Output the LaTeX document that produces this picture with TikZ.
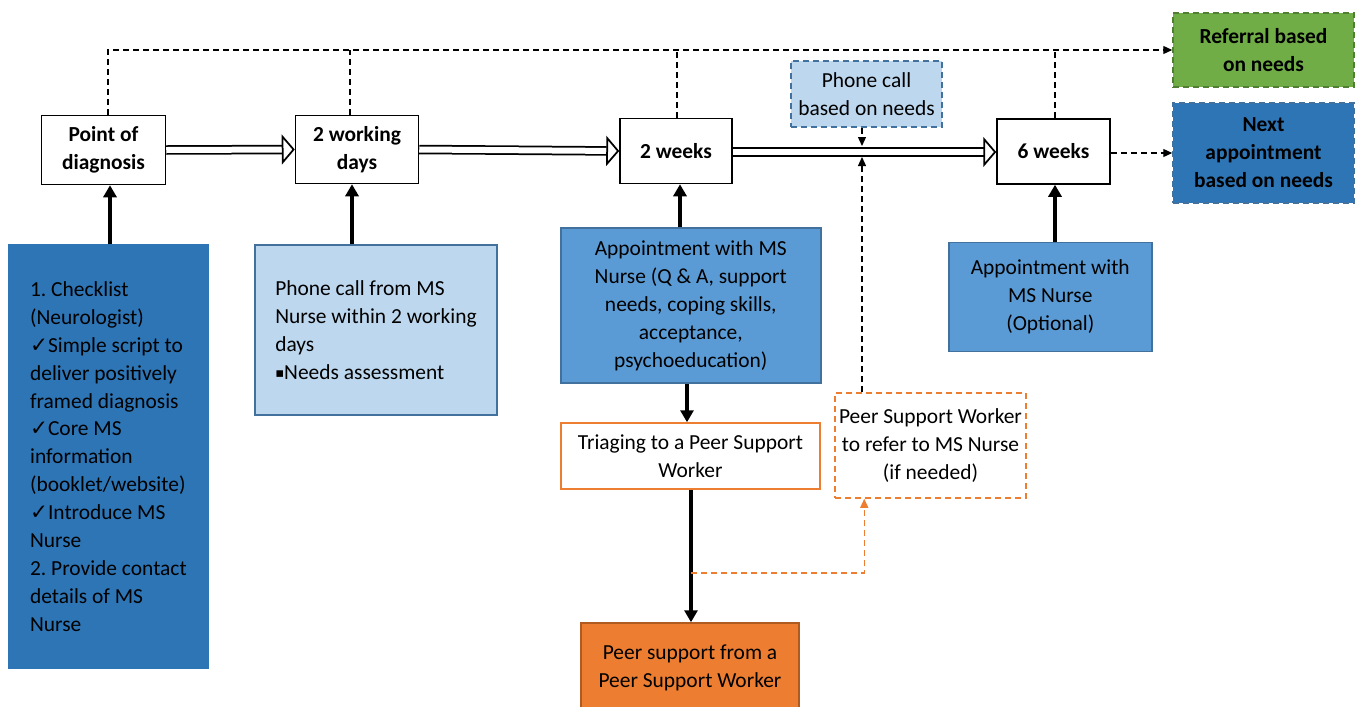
\documentclass[tikz,border=0pt]{standalone}
\usepackage{fontspec}
\setmainfont{Carlito}
\newfontfamily\symfont{DejaVu Sans}
\usetikzlibrary{arrows.meta,calc}
\frenchspacing

\definecolor{deepblue}{HTML}{2E75B6}
\definecolor{midblue}{HTML}{5B9BD5}
\definecolor{paleblue}{HTML}{BDD7EE}
\definecolor{blueline}{HTML}{41719C}
\definecolor{leafgreen}{HTML}{70AD47}
\definecolor{greenline}{HTML}{507E32}
\definecolor{peach}{HTML}{ED7D31}
\definecolor{peachline}{HTML}{AE5A21}

\tikzset{
  boxsize/.style 2 args={minimum width=#1*0.02cm, minimum height=#2*0.02cm},
  stage/.style={draw, line width=0.03cm, fill=white, align=center, font=\fontsize{12.2}{15.9}\selectfont\bfseries, inner sep=0pt},
  care/.style={draw=blueline, line width=0.03cm, align=center, inner sep=0pt},
  dashbox/.style={dash pattern=on 0.12cm off 0.08cm, line width=0.03cm},
  push/.style={line width=0.08cm, -{Triangle[length=0.24cm, width=0.26cm]}},
  flow/.style={double, line width=0.035cm, double distance=0.12cm, -{Triangle[fill=white, length=0.26cm, width=0.6cm, line width=0.035cm]}},
  link/.style={dash pattern=on 0.12cm off 0.08cm, line width=0.025cm, -{Triangle[length=0.18cm, width=0.16cm]}}
}
\newcommand{\tickmark}{{\symfont\char"2713}}
\newcommand{\sqbullet}{\raisebox{1pt}{\symfont\fontsize{7.5}{8}\selectfont\char"25AA}}

\begin{document}
\begin{tikzpicture}[x=0.02cm, y=-0.02cm, font=\fontsize{12.2}{15.9}\selectfont]
  \useasboundingbox (0,0) rectangle (1357,707);

  % time points along the pathway
  \node[stage, boxsize={124}{69}] (pod) at (103.5,150) {Point of\\diagnosis};
  \node[stage, boxsize={123}{68}] (twd) at (357,149.5) {2 working\\days};
  \node[stage, boxsize={112}{65}] (twk) at (676,151) {2 weeks};
  \node[stage, boxsize={113}{65}] (sixw) at (1053.5,151.5) {6 weeks};

  % outcomes on the right
  \node[stage, dashbox, draw=greenline, fill=leafgreen, boxsize={181}{74}] (referral) at (1263.5,50) {Referral based\\on needs};
  \node[stage, dashbox, draw=blueline, fill=deepblue, boxsize={181}{100}] (nextapp) at (1263.5,153) {Next\\appointment\\based on needs};
  \node[care, dashbox, fill=paleblue, boxsize={151}{66}] (phone) at (866.5,94) {Phone call\\based on needs};

  % what happens at each time point
  \node[care, draw=deepblue, fill=deepblue, align=left, boxsize={199}{423}] (checklist) at (108.4,456.5)
    {1. Checklist\\(Neurologist)\\\tickmark Simple script to\\deliver positively\\framed diagnosis\\\tickmark Core MS\\information\\(booklet/website)\\\tickmark Introduce MS\\Nurse\\2. Provide contact\\details of MS\\Nurse};
  \node[care, fill=paleblue, align=left, boxsize={242}{170}] (callbox) at (376,330)
    {Phone call from MS\\Nurse within 2 working\\days\\\sqbullet Needs assessment};
  \node[care, fill=midblue, boxsize={260}{155}] (appt) at (690.8,305.5)
    {Appointment with MS\\Nurse (Q \& A, support\\needs, coping skills,\\acceptance,\\psychoeducation)};
  \node[care, fill=midblue, boxsize={203}{109}] (opt) at (1050.3,297.2) {Appointment with\\MS Nurse\\(Optional)};

  % peer support branch
  \node[care, draw=peach, fill=white, boxsize={259}{66}] (triage) at (690.5,456) {Triaging to a Peer Support\\Worker};
  \node[care, draw=peachline, fill=peach, boxsize={218}{89}] (peer) at (690,667.5) {Peer support from a\\Peer Support Worker};
  \node[care, dashbox, draw=peach, fill=white, boxsize={191}{105}] (psw) at (930.5,445.5) {Peer Support Worker\\to refer to MS Nurse\\(if needed)};

  % main pathway
  \draw[flow] (pod.east) -- (twd.west);
  \draw[flow] (twd.east) -- (twk.west);
  \draw[flow] (twk.east |- 0,152) -- (sixw.west |- 0,152);

  % top dashed line to referral
  \coordinate (top) at (108,50);
  \draw[link] (pod.north -| top) -- (top) -- (referral.west);
  \foreach \n/\x in {twd/350, twk/677, sixw/1055} {
    \draw[dash pattern=on 0.12cm off 0.08cm, line width=0.025cm] (\n.north -| \x,0) -- (\x,50);
  }
  \draw[link] (sixw.east |- 0,153) -- (nextapp.west |- 0,153);

  % inputs into time points
  \draw[push] (checklist.north -| 110,0) -- (pod.south -| 110,0);
  \draw[push] (callbox.north -| 352,0) -- (twd.south -| 352,0);
  \draw[push] (appt.north -| 680,0) -- (twk.south -| 680,0);
  \draw[push] (opt.north -| 1055,0) -- (sixw.south -| 1055,0);

  % phone call and peer worker taps onto the line
  \coordinate (tapup) at (862,146);
  \coordinate (tapdn) at (862,157);
  \draw[link] (phone.south -| tapup) -- (tapup);
  \draw[link] (psw.north -| tapdn) -- (tapdn);

  % triage chain
  \draw[push] (appt.south -| 687,0) -- (triage.north -| 687,0);
  \draw[push] (triage.south -| 691,0) -- (peer.north -| 691,0);
  \coordinate (fork) at (691,573);
  \draw[link, draw=peach] (fork) -| ($(psw.south west)+(30,0)$);
\end{tikzpicture}
\end{document}
